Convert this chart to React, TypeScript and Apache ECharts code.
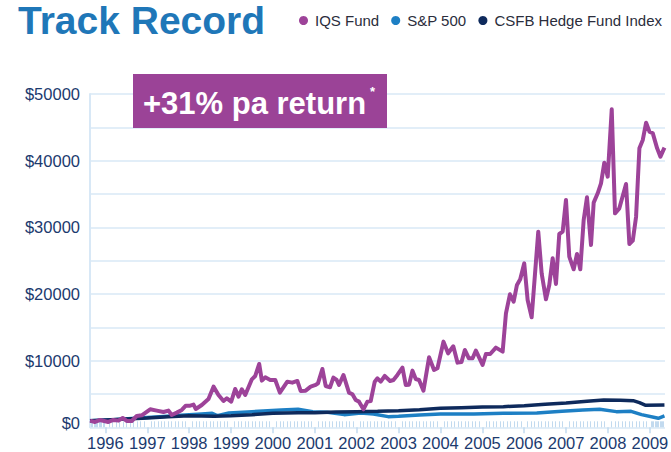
import React, { useEffect, useRef } from "react";
import * as echarts from "echarts";

const FONT = "'Liberation Sans', Arial, Helvetica, sans-serif";

// IQS Fund: time (fractional years) and value ($)
const iqsYears = [
  1995.634, 1995.754, 1995.873, 1996.072, 1996.191, 1996.311, 1996.414, 1996.509, 1996.629, 1996.748,
  1996.868, 1997.069, 1997.226, 1997.387, 1997.506, 1997.585, 1997.705, 1997.824, 1997.92, 1998.025,
  1998.104, 1998.159, 1998.302, 1998.462, 1998.582, 1998.701, 1998.821, 1998.9, 1999.005, 1999.101,
  1999.18, 1999.258, 1999.34, 1999.498, 1999.579, 1999.674, 1999.737, 1999.818, 1999.937, 2000.057,
  2000.167, 2000.344, 2000.463, 2000.583, 2000.662, 2000.781, 2000.901, 2001.02, 2001.075, 2001.18,
  2001.259, 2001.362, 2001.443, 2001.522, 2001.577, 2001.683, 2001.816, 2001.898, 2001.977, 2002.055,
  2002.161, 2002.256, 2002.335, 2002.431, 2002.495, 2002.574, 2002.67, 2002.797, 2002.878, 2002.973,
  2003.093, 2003.172, 2003.251, 2003.332, 2003.411, 2003.49, 2003.595, 2003.729, 2003.848, 2003.93,
  2004.073, 2004.183, 2004.307, 2004.408, 2004.503, 2004.582, 2004.678, 2004.766, 2004.845, 2005.005,
  2005.084, 2005.187, 2005.323, 2005.484, 2005.563, 2005.658, 2005.747, 2005.826, 2005.904, 2006.0,
  2006.081, 2006.177, 2006.335, 2006.416, 2006.519, 2006.598, 2006.679, 2006.758, 2006.837, 2006.918,
  2006.997, 2007.076, 2007.181, 2007.26, 2007.339, 2007.42, 2007.499, 2007.595, 2007.659, 2007.755,
  2007.834, 2007.913, 2007.994, 2008.09, 2008.168, 2008.271, 2008.431, 2008.51, 2008.591, 2008.67,
  2008.749, 2008.83, 2008.909, 2008.988, 2009.069, 2009.172, 2009.251, 2009.347,
];
const iqsValues = [
  1000, 800, 1100, 800, 1100, 1000, 1400, 950, 950, 1700,
  1800, 2700, 2500, 2300, 2500, 1850, 2200, 2600, 3250, 3250,
  3400, 2750, 3350, 4250, 6100, 4850, 3950, 4350, 3850, 5750,
  4600, 5700, 4850, 7200, 7700, 9500, 7000, 7500, 7100, 7100,
  5200, 6850, 6700, 6950, 5450, 5500, 6100, 6350, 6600, 8750,
  6200, 6000, 7450, 7100, 6350, 7850, 5200, 4950, 4100, 3850,
  2700, 3850, 3950, 6850, 7350, 6850, 7700, 6950, 7100, 7850,
  8950, 6350, 6400, 8500, 7250, 7100, 5500, 10500, 8600, 8850,
  12850, 11100, 12150, 9700, 9800, 11600, 10350, 10350, 11500, 9350,
  11000, 11000, 11950, 11350, 17100, 19950, 18850, 21350, 22200, 24600,
  19100, 16500, 29350, 23100, 19200, 21350, 25350, 21500, 29000, 29350,
  34100, 25600, 23700, 26000, 23700, 31100, 34500, 27350, 33700, 35100,
  36600, 39700, 37600, 47700, 32100, 32850, 36500, 27500, 28000, 31600,
  41850, 43100, 45700, 44350, 44100, 41850, 40600, 41950,
];

// S&P 500
const spxYears = [
  1995.634, 1996.2, 1996.8, 1997.3, 1997.8, 1998.3, 1998.55, 1998.67, 1998.95, 1999.5,
  2000.2, 2000.6, 2000.95, 2001.3, 2001.7, 2002.1, 2002.4, 2002.75, 2003.0, 2003.5,
  2004.0, 2004.8, 2005.5, 2006.3, 2006.9, 2007.4, 2007.8, 2008.2, 2008.55, 2008.8,
  2009.2, 2009.347,
];
const spxValues = [
  1000, 1150, 1400, 1600, 1800, 2000, 2100, 1750, 2150, 2350,
  2600, 2700, 2350, 2250, 1900, 2150, 2000, 1600, 1650, 1850,
  2000, 2000, 2100, 2150, 2400, 2600, 2700, 2350, 2400, 1900,
  1350, 1700,
];

// CSFB Hedge Fund Index
const csfbYears = [
  1995.634, 1996.5, 1997.0, 1997.5, 1998.0, 1998.6, 1999.0, 1999.5, 2000.0, 2000.6,
  2001.0, 2001.5, 2002.0, 2002.5, 2003.0, 2003.5, 2004.0, 2004.5, 2005.0, 2005.5,
  2006.0, 2006.5, 2007.0, 2007.5, 2007.9, 2008.3, 2008.6, 2008.75, 2008.9, 2009.347,
];
const csfbValues = [
  1000, 1250, 1400, 1600, 1750, 1650, 1750, 1900, 2100, 2200,
  2200, 2300, 2350, 2400, 2500, 2650, 2850, 2950, 3050, 3100,
  3250, 3450, 3650, 3900, 4100, 4050, 4000, 3700, 3300, 3350,
];

const seriesNames = ["IQS Fund", "S&P 500", "CSFB Hedge Fund Index"];
const xStart = 1995.634;
const xEnd = 2009.36;
const yMax = 50000;
const yStep = 5000;
const headline = "+31% pa return";

const toTs = (y: number) => {
  const Y = Math.floor(y);
  const a = Date.UTC(Y, 0, 1);
  const b = Date.UTC(Y + 1, 0, 1);
  return a + (y - Y) * (b - a);
};
const pairs = (xs: number[], vs: number[]) => xs.map((x, i) => [toTs(x), vs[i]]);

const NAVY = "#1c3a6e";
const GRID = "#d8e8f6";
const TICK = "#c2daef";
const YEAR_MS = 365 * 86400000;

export default function App() {
  const ref = useRef<HTMLDivElement>(null);
  useEffect(() => {
    document.body.style.margin = "0";
    if (!ref.current) return;
    const chart = echarts.init(ref.current, undefined, { renderer: "svg" });
    const yearLabel = (v: number) => {
      const d = new Date(v);
      return d.getUTCMonth() === 0 && d.getUTCDate() === 1 && d.getUTCHours() === 0
        ? String(d.getUTCFullYear())
        : "";
    };
    const option: any = {
      animation: false,
      useUTC: true,
      textStyle: { fontFamily: FONT },
      title: {
        text: "Track Record",
        left: 18,
        top: 1,
        padding: 0,
        textStyle: { fontSize: 39, fontWeight: "bold", color: "#1f77b8", fontFamily: FONT },
      },
      legend: {
        data: seriesNames,
        left: 294,
        top: 8,
        icon: "circle",
        itemWidth: 9,
        itemHeight: 9,
        itemGap: 12,
        textStyle: { fontSize: 15, color: "#2b2d3c", fontFamily: FONT, padding: [0, 0, 0, 2] },
      },
      grid: { left: 90, right: 6, top: 94, bottom: 24.7, containLabel: false, outerBoundsMode: "none" },
      xAxis: [
        {
          type: "time",
          min: toTs(xStart),
          max: toTs(xEnd),
          minInterval: YEAR_MS,
          maxInterval: YEAR_MS + 86400000,
          splitNumber: 14,
          axisLine: { show: false },
          axisTick: { show: false, inside: true },
          minorTick: { show: true, splitNumber: 12, length: 6, lineStyle: { color: TICK, width: 1 } },
          axisLabel: { show: false },
          splitLine: { show: false },
          minorSplitLine: { show: false },
        },
        {
          type: "time",
          position: "bottom",
          min: toTs(xStart),
          max: toTs(xEnd),
          minInterval: YEAR_MS,
          maxInterval: YEAR_MS + 86400000,
          splitNumber: 14,
          axisLine: { show: false },
          axisTick: { show: true, inside: false, length: 6, lineStyle: { color: TICK, width: 1.5 } },
          minorTick: { show: false },
          axisLabel: {
            formatter: yearLabel,
            fontSize: 16.5,
            color: NAVY,
            fontFamily: FONT,
            margin: 7,
          },
          splitLine: { show: false },
        },
      ],
      yAxis: {
        type: "value",
        min: 0,
        max: yMax,
        interval: yStep,
        axisLine: { show: true, lineStyle: { color: GRID, width: 2 } },
        axisTick: { show: false },
        splitLine: { show: true, lineStyle: { color: GRID, width: 1.5 } },
        axisLabel: {
          fontSize: 16.5,
          color: NAVY,
          fontFamily: FONT,
          margin: 10,
          formatter: (v: number) =>
            v % 10000 !== 0 ? "" : v === 0 ? "{z|$0}" : "$" + v,
          rich: { z: { fontSize: 16.5, color: NAVY, fontFamily: FONT, padding: [0, 0, 8, 0] } },
        },
      },
      series: [
        {
          name: "S&P 500",
          type: "line",
          xAxisIndex: 0,
          data: pairs(spxYears, spxValues),
          showSymbol: false,
          symbol: "none",
          lineStyle: { width: 3.5, color: "#1d7fc4" },
          itemStyle: { color: "#1d7fc4" },
          z: 3,
        },
        {
          name: "CSFB Hedge Fund Index",
          type: "line",
          xAxisIndex: 0,
          data: pairs(csfbYears, csfbValues),
          showSymbol: false,
          symbol: "none",
          lineStyle: { width: 3.5, color: "#0e2a5c" },
          itemStyle: { color: "#0e2a5c" },
          z: 4,
        },
        {
          name: "IQS Fund",
          type: "line",
          xAxisIndex: 0,
          data: pairs(iqsYears, iqsValues),
          showSymbol: false,
          symbol: "none",
          lineStyle: { width: 4, color: "#9d4399", join: "round" },
          itemStyle: { color: "#9d4399" },
          z: 5,
        },
      ],
      graphic: [
        {
          type: "rect",
          shape: { x: 133, y: 74, width: 254, height: 54 },
          style: { fill: "#9b4397" },
          z: 100,
        },
        {
          type: "text",
          x: 143,
          y: 103,
          style: {
            text: headline,
            fill: "#ffffff",
            font: "bold 31px " + FONT,
            verticalAlign: "middle",
            align: "left",
          },
          z: 101,
        },
        {
          type: "text",
          x: 370,
          y: 91,
          style: {
            text: "*",
            fill: "#ffffff",
            font: "bold 13px " + FONT,
            verticalAlign: "middle",
            align: "left",
          },
          z: 101,
        },
      ],
    };
    chart.setOption(option);
    return () => chart.dispose();
  }, []);
  return <div ref={ref} style={{ width: 671, height: 452 }} />;
}
